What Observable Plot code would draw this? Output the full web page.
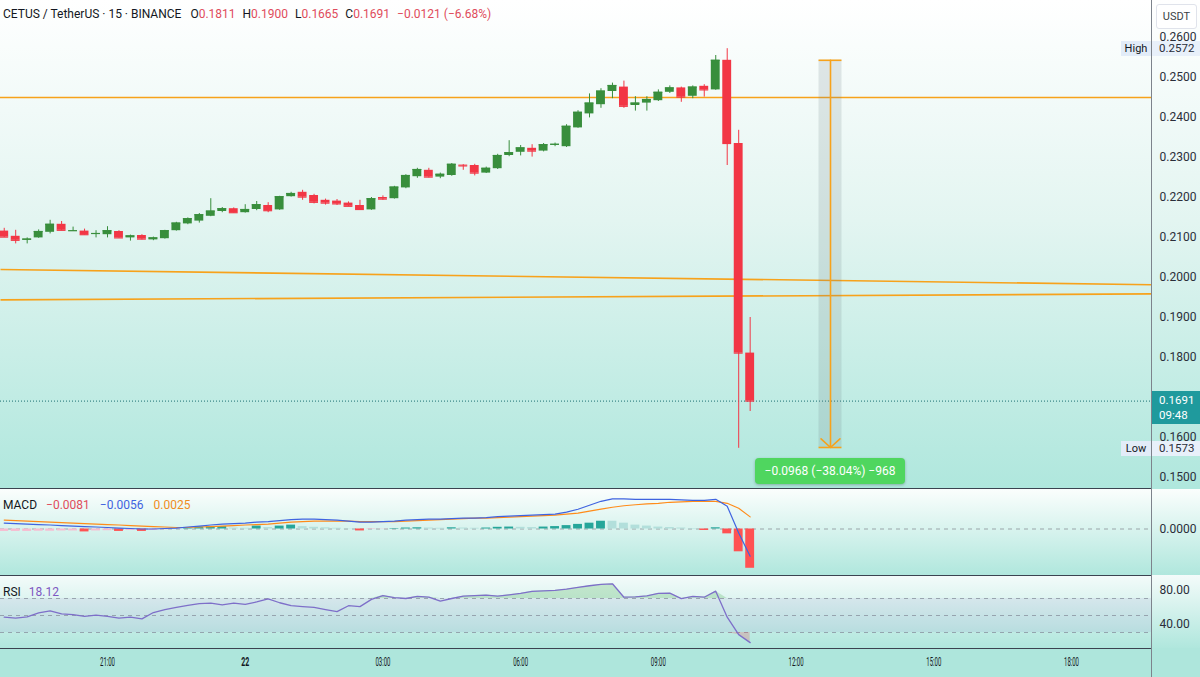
<!DOCTYPE html>
<html><head><meta charset="utf-8">
<script src="https://cdn.jsdelivr.net/npm/d3@7"></script>
<script src="https://cdn.jsdelivr.net/npm/@observablehq/plot@0.6"></script>
<style>
html,body{margin:0;padding:0;width:1200px;height:677px;overflow:hidden;font-family:Roboto,"Open Sans",sans-serif;background:#fff;}
#root{position:relative;width:1200px;height:677px;overflow:hidden;}
.abs{position:absolute;}
.abs svg{display:block;}
</style></head><body><div id="root"></div>
<script>
// ---------------- DATA ----------------
const opens = [
0.2116,0.2103,0.2093,0.2099,0.2113,0.2133,0.2116,0.2116,0.2108,0.2107,
0.2115,0.2099,0.2105,0.2094,0.2097,0.2117,0.2134,0.2141,0.2153,0.2165,
0.2172,0.2162,0.2170,0.2180,0.2169,0.2202,0.2213,0.2205,0.2193,0.2191,
0.2186,0.2180,0.2169,0.2200,0.2197,0.2224,0.2252,0.2268,0.2251,0.2255,
0.2281,0.2280,0.2261,0.2272,0.2305,0.2313,0.2323,0.2316,0.2331,0.2327,
0.2374,0.2409,0.2432,0.2465,0.2476,0.2430,0.2436,0.2442,0.2463,0.2474,
0.2453,0.2478,0.2469,0.2543,0.2335,0.1811];
const highs = [
0.2123,0.2118,0.2099,0.2119,0.2143,0.2140,0.2126,0.2121,0.2117,0.2127,
0.2117,0.2106,0.2107,0.2101,0.2118,0.2138,0.2149,0.2160,0.2197,0.2175,
0.2174,0.2182,0.2190,0.2187,0.2203,0.2213,0.2218,0.2208,0.2196,0.2195,
0.2189,0.2193,0.2200,0.2204,0.2228,0.2257,0.2273,0.2273,0.2261,0.2285,
0.2282,0.2283,0.2276,0.2308,0.2342,0.2330,0.2332,0.2335,0.2336,0.2382,
0.2417,0.2459,0.2472,0.2486,0.2491,0.2452,0.2452,0.2469,0.2479,0.2476,
0.2479,0.2482,0.2555,0.2572,0.2368,0.1900];
const lows = [
0.2100,0.2084,0.2084,0.2098,0.2109,0.2117,0.2115,0.2106,0.2099,0.2099,
0.2098,0.2091,0.2094,0.2092,0.2096,0.2116,0.2132,0.2136,0.2152,0.2162,
0.2161,0.2161,0.2167,0.2162,0.2168,0.2201,0.2193,0.2184,0.2181,0.2180,
0.2177,0.2169,0.2168,0.2193,0.2196,0.2222,0.2248,0.2249,0.2247,0.2253,
0.2268,0.2254,0.2260,0.2270,0.2302,0.2304,0.2301,0.2314,0.2327,0.2325,
0.2373,0.2399,0.2423,0.2447,0.2423,0.2416,0.2416,0.2440,0.2460,0.2438,
0.2447,0.2451,0.2468,0.2280,0.1573,0.1665];
const closes = [
0.2101,0.2093,0.2096,0.2115,0.2133,0.2118,0.2117,0.2107,0.2110,0.2117,
0.2099,0.2104,0.2096,0.2099,0.2117,0.2136,0.2147,0.2157,0.2166,0.2172,
0.2162,0.2170,0.2182,0.2167,0.2202,0.2210,0.2201,0.2188,0.2186,0.2184,
0.2178,0.2170,0.2197,0.2196,0.2226,0.2255,0.2270,0.2251,0.2258,0.2283,
0.2279,0.2261,0.2273,0.2305,0.2312,0.2324,0.2316,0.2332,0.2333,0.2378,
0.2413,0.2436,0.2466,0.2480,0.2428,0.2436,0.2445,0.2463,0.2474,0.2451,
0.2476,0.2469,0.2543,0.2335,0.1811,0.1691];
const macdLine = [
0.00122,0.00112,0.00102,0.00092,0.00082,0.00071,0.00061,0.00051,0.00041,0.00031,
0.00020,0.00010,0.00000,0.00000,0.00010,0.00020,0.00041,0.00061,0.00082,0.00102,
0.00112,0.00122,0.00143,0.00153,0.00173,0.00194,0.00204,0.00204,0.00194,0.00184,
0.00163,0.00143,0.00143,0.00153,0.00163,0.00184,0.00194,0.00204,0.00204,0.00214,
0.00224,0.00224,0.00235,0.00255,0.00265,0.00275,0.00286,0.00296,0.00306,0.00347,
0.00408,0.00490,0.00571,0.00622,0.00622,0.00612,0.00612,0.00612,0.00612,0.00602,
0.00592,0.00592,0.00612,0.00469,-0.00082,-0.00560];
const signalLine = [
0.00184,0.00173,0.00163,0.00153,0.00143,0.00133,0.00122,0.00112,0.00102,0.00092,
0.00082,0.00071,0.00061,0.00051,0.00041,0.00031,0.00031,0.00041,0.00051,0.00061,
0.00071,0.00082,0.00092,0.00102,0.00122,0.00143,0.00153,0.00163,0.00163,0.00163,
0.00163,0.00153,0.00153,0.00153,0.00153,0.00163,0.00173,0.00184,0.00194,0.00204,
0.00214,0.00224,0.00224,0.00235,0.00245,0.00255,0.00265,0.00275,0.00286,0.00306,
0.00326,0.00367,0.00408,0.00449,0.00479,0.00500,0.00520,0.00530,0.00551,0.00561,
0.00571,0.00571,0.00571,0.00530,0.00428,0.00250];
const macdHist = [
-0.0005,-0.0005,-0.0005,-0.00045,-0.00045,-0.0004,-0.0004,-0.0006,-0.0004,-0.00035,
-0.0005,-0.0003,-0.0005,-0.0003,-0.00015,-0.00005,0.00015,0.0004,0.00045,0.0005,
0.0002,0.00015,0.0006,0.0003,0.0006,0.0008,0.0005,0.00035,0.00025,0.00015,
0.00005,-0.0004,-0.0001,-0.00005,0.0001,0.0002,0.00025,0.0002,0.00015,0.00025,
0.0002,0.00015,0.0002,0.00035,0.0004,0.00035,0.0003,0.0004,0.0005,0.0007,
0.00095,0.0012,0.0016,0.0016,0.0012,0.0008,0.0006,0.0004,0.0003,0.0002,
0.0001,-0.0003,0.00025,-0.0010,-0.0047,-0.0081];
const rsiValues = [
48,47,48.5,53,55.5,52,51,49,50.5,49,
47,48,46,53.5,57,59.5,62,64,64.5,62.5,
64.5,63,66,69.5,65,61.5,60.5,59.5,57,54.5,
61.5,60.5,69,73.5,71,70,72.5,71.5,67,70,
72.7,73.5,74,72.7,74.3,76,78.5,79,79.5,81,
83,85,86.5,87.3,71.5,72,73,76,76.3,69.8,
72.4,71.5,78.6,48,27.5,18.12];

const priceTicks = [0.15,0.16,0.18,0.19,0.20,0.21,0.22,0.23,0.24,0.25,0.26];
const timeTicks = [new Date(2025,4,21,21), new Date(2025,4,22,0), new Date(2025,4,22,3), new Date(2025,4,22,6),
                   new Date(2025,4,22,9), new Date(2025,4,22,12), new Date(2025,4,22,15), new Date(2025,4,22,18)];
const hLevels = [0.2450];
const trendLines = [
  {t1: new Date(2025,4,21,18,40,8), p1: 0.2020, t2: new Date(2025,4,22,19,44,34), p2: 0.1982},
  {t1: new Date(2025,4,21,18,40,8), p1: 0.1944, t2: new Date(2025,4,22,19,44,34), p2: 0.1959}
];
const measure = [{t1: new Date(2025,4,22,12,30), tm: new Date(2025,4,22,12,45), t2: new Date(2025,4,22,13,0), p1: 0.2543, p2: 0.1575}];
const measureText = "\u22120.0968 (\u221238.04%) \u2212968";
const lastPrice = 0.1691, lastCountdown = "09:48";
const highPrice = 0.2572, lowPrice = 0.1573;
const symbolTitle = "CETUS / TetherUS \u00b7 15 \u00b7 BINANCE";
const ohlcLabels = [["O","0.1811"],["H","0.1900"],["L","0.1665"],["C","0.1691"],["","\u22120.0121 (\u22126.68%)"]];
const macdLegend = ["\u22120.0081","\u22120.0056","0.0025"];
const rsiLegend = "18.12";

// ---------------- SETUP ----------------
const xDomain = [new Date(2025,4,21,18,40,8), new Date(2025,4,22,19,44,34)];
const barStart = new Date(2025,4,21,18,45);
const times = opens.map((_, i) => new Date(barStart.getTime() + i * 15 * 60000));
const halfBar = 5.8 * 60000;
const UP = "#388e3c", DOWN = "#f23645", ORANGE = "#f7a21b";
const candles = times.map((t, i) => ({t, o: opens[i], h: highs[i], l: lows[i], c: closes[i], col: closes[i] >= opens[i] ? UP : DOWN}));
const macdData = times.map((t, i) => ({t, m: macdLine[i], s: signalLine[i], h: macdHist[i],
  col: macdHist[i] >= 0 ? (i > 0 && macdHist[i] > macdHist[i-1] ? "#26a69a" : "#b2dfdb")
                        : (i > 0 && macdHist[i] < macdHist[i-1] ? "#ff5252" : "#f8bbd0")}));
const rsiData = times.map((t, i) => ({t, v: rsiValues[i]}));
const FONT = "Roboto, 'Open Sans', sans-serif";

const root = document.getElementById("root");
function div(css, html) { const d = document.createElement("div"); d.className = "abs"; d.style.cssText = css; if (html != null) d.innerHTML = html; root.appendChild(d); return d; }

// backgrounds
div("left:0;top:0;width:1200px;height:489px;background:linear-gradient(#ffffff 0%, #e3f5f1 45%, #afe7dd 100%);");
div("left:0;top:489px;width:1200px;height:86px;background:linear-gradient(#fbfefd, #b0e7dd);");
div("left:0;top:575px;width:1200px;height:73px;background:linear-gradient(#f4fbfa, #b0e7dd);");
div("left:0;top:648px;width:1200px;height:29px;background:#aee6dc;");

// ---------------- MAIN PANE ----------------
const main = Plot.plot({
  width: 1200, height: 489, marginLeft: 0, marginRight: 49, marginTop: 0, marginBottom: 0,
  x: {type: "time", domain: xDomain, axis: null},
  y: {domain: [0.15, 0.25], range: [477, 77], axis: "right", ticks: priceTicks, tickFormat: d => d.toFixed(4), tickSize: 0, tickPadding: 8, label: null},
  color: {type: "identity"},
  style: {background: "transparent", fontSize: "12px", fontFamily: FONT, color: "#2a2e39", overflow: "visible"},
  marks: [
    Plot.ruleY(hLevels, {stroke: ORANGE, strokeWidth: 1.6}),
    Plot.link(trendLines, {x1: "t1", y1: "p1", x2: "t2", y2: "p2", stroke: ORANGE, strokeWidth: 1.6}),
    Plot.ruleY([lastPrice], {stroke: "#1b6f73", strokeDasharray: "1,2", strokeWidth: 1}),
    Plot.rect(measure, {x1: "t1", x2: "t2", y1: "p1", y2: "p2", fill: "#6f7d86", fillOpacity: 0.18}),
    Plot.ruleY(measure, {x1: "t1", x2: "t2", y: "p1", stroke: ORANGE, strokeWidth: 1.6}),
    Plot.ruleY(measure, {x1: "t1", x2: "t2", y: "p2", stroke: ORANGE, strokeWidth: 1.6}),
    Plot.arrow(measure, {x1: "tm", y1: "p1", x2: "tm", y2: "p2", stroke: ORANGE, strokeWidth: 1.6, headLength: 12, headAngle: 95}),
    Plot.ruleX(candles, {x: "t", y1: "l", y2: "h", stroke: "col", strokeWidth: 1}),
    Plot.rect(candles, {x1: d => new Date(+d.t - halfBar), x2: d => new Date(+d.t + halfBar), y1: "o", y2: "c", fill: "col"}),
    Plot.ruleY(candles, {x1: d => new Date(+d.t - halfBar), x2: d => new Date(+d.t + halfBar), y: "c", stroke: "col", strokeWidth: 1.2})
  ]
});
const mainBox = div("left:0;top:0;width:1200px;height:489px;");
mainBox.appendChild(main);
const ys = main.scale("y"), xs = main.scale("x");

// ---------------- MACD PANE ----------------
const macd = Plot.plot({
  width: 1200, height: 86, marginLeft: 0, marginRight: 49, marginTop: 0, marginBottom: 0,
  x: {type: "time", domain: xDomain, axis: null},
  y: {domain: [-0.005, 0.005], range: [63.75, 15.25], axis: "right", ticks: [0], tickFormat: d => d.toFixed(4), tickSize: 0, tickPadding: 8, label: null},
  color: {type: "identity"},
  style: {background: "transparent", fontSize: "12px", fontFamily: FONT, color: "#2a2e39", overflow: "visible"},
  marks: [
    Plot.ruleY([0], {stroke: "#9aa5a8", strokeDasharray: "4,4", strokeWidth: 1}),
    Plot.rect(macdData, {x1: d => new Date(+d.t - halfBar), x2: d => new Date(+d.t + halfBar), y1: 0, y2: "h", fill: "col"}),
    Plot.line(macdData, {x: "t", y: "s", stroke: "#ff8c1a", strokeWidth: 1.2}),
    Plot.line(macdData, {x: "t", y: "m", stroke: "#3f63e0", strokeWidth: 1.2})
  ]
});
div("left:0;top:489px;width:1200px;height:86px;").appendChild(macd);

// ---------------- RSI PANE + TIME AXIS ----------------
const rsi = Plot.plot({
  width: 1200, height: 102, marginLeft: 0, marginRight: 49, marginTop: 0, marginBottom: 29,
  x: {type: "time", domain: xDomain, axis: "bottom", ticks: timeTicks, tickSize: 0, tickPadding: 9, label: null,
      tickFormat: d => d.getHours() === 0 ? String(d.getDate()) : d3.timeFormat("%H:%M")(d)},
  y: {domain: [30, 70], range: [57, 23], axis: "right", ticks: [40, 80], tickFormat: d => d.toFixed(2), tickSize: 0, tickPadding: 8, label: null},
  style: {background: "transparent", fontSize: "12px", fontFamily: FONT, color: "#2a2e39", overflow: "visible"},
  marks: [
    Plot.rect([{a: xDomain[0], b: xDomain[1], lo: 30, hi: 70}], {x1: "a", x2: "b", y1: "lo", y2: "hi", fill: "#7e57c2", fillOpacity: 0.09}),
    Plot.ruleY([70, 50, 30], {stroke: "#8a94a0", strokeDasharray: "4,4", strokeWidth: 1, strokeOpacity: 0.8}),
    Plot.areaY(rsiData, {x: "t", y1: 70, y2: d => Math.max(d.v, 70), fill: "#4caf50", fillOpacity: 0.25}),
    Plot.areaY(rsiData, {x: "t", y1: 30, y2: d => Math.min(d.v, 30), fill: "#f23645", fillOpacity: 0.22}),
    Plot.line(rsiData, {x: "t", y: "v", stroke: "#7e6fc9", strokeWidth: 1.3})
  ]
});
div("left:0;top:575px;width:1200px;height:102px;").appendChild(rsi);
d3.select(rsi).selectAll("[aria-label^='x-axis'] text").each(function () {
  const t = this.textContent;
  this.setAttribute("lengthAdjust", "spacingAndGlyphs");
  this.setAttribute("fill", "#131722");
  this.setAttribute("font-size", "12.5");
  if (t.length <= 2) { this.setAttribute("font-weight", "bold"); this.setAttribute("textLength", 8); }
  else this.setAttribute("textLength", 15);
});

// ---------------- SEPARATORS ----------------
div("left:0;top:488px;width:1151px;height:1px;background:#3b4350;");
div("left:0;top:575px;width:1151px;height:1px;background:#3b4350;");
div("left:0;top:648px;width:1151px;height:1px;background:#3b4350;");
div("left:1151px;top:0;width:1px;height:677px;background:#7d838c;");

// ---------------- OVERLAYS ----------------
const hdr = div("left:3px;top:7px;font:12px " + FONT + ";color:#131722;white-space:nowrap;");
hdr.innerHTML = symbolTitle + ohlcLabels.map(([k, v], i) =>
  `<span style="margin-left:${i === 0 ? 9 : 7}px">${k}<span style="color:#e04c5c">${v}</span></span>`).join("");

div("left:1156px;top:4px;width:41px;height:25px;background:#fff;border:1px solid #e0e3eb;border-radius:3px;box-sizing:border-box;font:11px " + FONT + ";color:#3b3f46;text-align:center;line-height:23px;", "USDT");

function priceFlag(p, label) {
  const y = ys.apply(p);
  div(`left:1121px;top:${y - 7}px;width:30px;height:15px;background:#e2ecf8;font:11px/15px ${FONT};color:#131722;text-align:center;`, label);
  div(`left:1152px;top:${y - 7}px;width:48px;height:15px;background:#e8f0fa;font:11.5px/15px ${FONT};color:#2a2e39;padding-left:7px;box-sizing:border-box;`, p.toFixed(4));
}
priceFlag(highPrice, "High");
priceFlag(lowPrice, "Low");

const ly = ys.apply(lastPrice);
div(`left:1152px;top:${ly - 10}px;width:48px;height:33px;background:#1f9a9d;font:11.5px ${FONT};color:#fff;padding:2px 0 0 7px;box-sizing:border-box;line-height:15px;`,
  lastPrice.toFixed(4) + "<br>" + lastCountdown);

const mx = xs.apply(measure[0].tm), my = ys.apply(measure[0].p2);
div(`left:${mx - 75}px;top:${my + 11}px;width:150px;height:26px;background:#4fd65f;border-radius:4px;box-shadow:0 1px 3px rgba(0,0,0,0.25);font:12px ${FONT};color:#fff;text-align:center;line-height:26px;`, measureText);

div(`left:3px;top:498px;font:12px ${FONT};color:#131722;white-space:nowrap;`,
  `MACD<span style="margin-left:9px;color:#e04c5c">${macdLegend[0]}</span><span style="margin-left:10px;color:#3f63e0">${macdLegend[1]}</span><span style="margin-left:10px;color:#f08c1e">${macdLegend[2]}</span>`);
div(`left:3px;top:585px;font:12px ${FONT};color:#131722;white-space:nowrap;`,
  `RSI<span style="margin-left:8px;color:#7e57c2">${rsiLegend}</span>`);
</script></body></html>
